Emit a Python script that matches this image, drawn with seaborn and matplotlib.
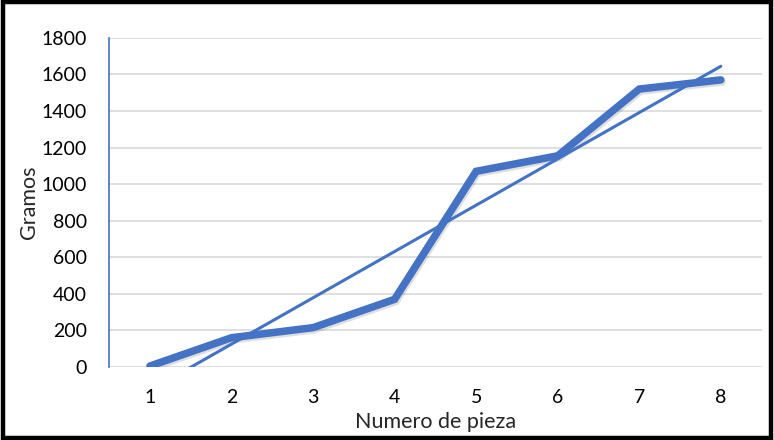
import matplotlib
matplotlib.use("Agg")
import matplotlib.pyplot as plt
import matplotlib.patheffects as pe
import seaborn as sns
import pandas as pd

# datos
piezas = [1, 2, 3, 4, 5, 6, 7, 8]
gramos = [5, 160, 215, 370, 1070, 1155, 1520, 1570]

df = pd.DataFrame({"pieza": piezas, "gramos": gramos})

sns.set_style("white")
plt.rcParams['font.family'] = ['Lato', 'DejaVu Sans']

azul = "#4472C4"

fig = plt.figure(figsize=(7.74, 4.40), dpi=100)
ax = fig.add_axes([0.141, 0.166, 0.843, 0.748])

sombra = [pe.SimpleLineShadow(offset=(1, -1.5), shadow_color="0.3", alpha=0.18), pe.Normal()]

sns.lineplot(data=df, x="pieza", y="gramos", color=azul, linewidth=5.4,
             solid_capstyle="round", solid_joinstyle="miter", ax=ax,
             path_effects=sombra)
# linea de tendencia (lineal)
sns.regplot(data=df, x="pieza", y="gramos", scatter=False, ci=None, color=azul,
            line_kws={"linewidth": 2.2, "solid_capstyle": "round"}, ax=ax)

ax.set_xlim(0.5, 8.5)
ax.set_ylim(0, 1800)
ax.set_xticks(piezas)
ax.set_yticks(range(0, 1801, 200))
ax.tick_params(axis="both", length=0, labelsize=14, colors="black")
ax.tick_params(axis="y", pad=16)
ax.tick_params(axis="x", pad=16)
ax.yaxis.grid(True, color="#d9d9d9", linewidth=1.2)
ax.set_axisbelow(True)
for s in ["top", "right", "bottom"]:
    ax.spines[s].set_visible(False)
ax.spines["left"].set_color(azul)
ax.spines["left"].set_linewidth(1.2)

ax.set_xlabel("Numero de pieza", fontsize=15.5, labelpad=4)
ax.set_ylabel("Gramos", fontsize=15.5)
ax.yaxis.set_label_coords(-0.108, 0.5)

# borde negro alrededor de la figura
fig.patches.append(plt.Rectangle((0.004, 0.004), 0.992, 0.992, transform=fig.transFigure,
                                 fill=False, edgecolor="black", linewidth=3.2))

fig.savefig("out.png", dpi=100)
